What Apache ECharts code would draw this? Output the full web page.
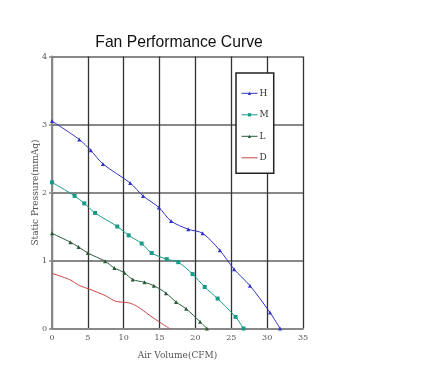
<!DOCTYPE html>
<html><head><meta charset="utf-8">
<script src="https://cdn.jsdelivr.net/npm/echarts@6/dist/echarts.min.js"></script>
<style>html,body{margin:0;padding:0;background:#fff}#c{width:440px;height:371px}</style>
</head><body><div id="c"></div>
<script>
const xTicks = [0,5,10,15,20,25,30,35];
const yTicks = [0,1,2,3,4];
const seriesNames = ['H','M','L','D'];
const H = [[0,3.05],[3.8,2.78],[5.4,2.62],[7.1,2.42],[10.9,2.14],[12.7,1.95],[14.9,1.78],[16.6,1.58],[19.0,1.46],[21.0,1.40],[23.4,1.15],[25.4,0.87],[27.6,0.63],[30.4,0.235],[31.8,0]];
const M = [[0,2.15],[3.15,1.95],[4.5,1.84],[6.0,1.70],[9.1,1.50],[10.7,1.37],[12.5,1.25],[13.9,1.11],[16.0,1.02],[17.6,0.975],[19.6,0.80],[21.3,0.61],[23.1,0.44],[25.6,0.17],[26.7,0]];
const L = [[0,1.40],[2.55,1.27],[3.7,1.20],[5.0,1.11],[7.4,0.99],[8.7,0.89],[10.1,0.82],[11.25,0.72],[12.9,0.68],[14.2,0.63],[15.9,0.52],[17.3,0.39],[18.7,0.29],[20.65,0.10],[21.6,0]];
const D = [[0,0.81],[2.45,0.72],[3.85,0.63],[5.2,0.58],[7.4,0.485],[8.9,0.40],[10.8,0.375],[11.95,0.32],[13.6,0.195],[15.2,0.08],[16.4,0]];
const colors = ['#3030c8','#179a8a','#2a5a3a','#cc4444'];
const symbols = ['triangle','rect','triangle','none'];
const data = [H,M,L,D];
const serif = '"DejaVu Serif","Liberation Serif",serif';
const chart = echarts.init(document.getElementById('c'));
chart.setOption({
  animation:false,
  title:{text:'Fan Performance Curve',left:174,top:30,textAlign:'center',textStyle:{fontFamily:'"Liberation Sans",Arial,sans-serif',fontSize:15.7,fontWeight:'normal',color:'#111'}},
  grid:{left:52,right:137,top:56.5,bottom:42.5},
  legend:{orient:'vertical',left:236,top:73,
    data:seriesNames.map((n,i)=>i===3?{name:n,itemStyle:{opacity:0}}:{name:n}),
    itemWidth:16,itemHeight:4,itemGap:12.5,
    lineStyle:{width:1},
    padding:[15.8,5,11,5],borderColor:'#222',borderWidth:1.5,backgroundColor:'#fff',
    textStyle:{fontFamily:serif,fontSize:9,color:'#333',padding:[0,0,0,-3]}},
  xAxis:{type:'value',min:0,max:35,interval:5,
    name:'Air Volume(CFM)',nameLocation:'middle',nameGap:23,nameMoveOverlap:false,
    nameTextStyle:{fontFamily:serif,fontSize:9,color:'#555'},
    axisLine:{lineStyle:{color:'#888',width:2}},axisTick:{show:false},
    axisLabel:{fontFamily:serif,fontSize:8,color:'#555',margin:5},
    splitLine:{lineStyle:{color:'#333',width:1.3}}},
  yAxis:{type:'value',min:0,max:4,interval:1,
    name:'Static Pressure(mmAq)',nameLocation:'middle',nameGap:12,nameMoveOverlap:false,
    nameTextStyle:{fontFamily:serif,fontSize:9,color:'#555'},
    axisLine:{lineStyle:{color:'#888',width:2}},
    axisTick:{show:true,length:3,lineStyle:{color:'#888',width:1.5}},
    axisLabel:{fontFamily:serif,fontSize:8,color:'#555',margin:5},
    splitLine:{lineStyle:{color:'#888',width:2}}},
  series:data.map((d,i)=>({name:seriesNames[i],type:'line',data:d,smooth:0.3,
    symbol:symbols[i],symbolSize:4,showSymbol:symbols[i]!=='none',
    lineStyle:{color:colors[i],width:1},itemStyle:{color:colors[i]},z:5}))
});
</script></body></html>
